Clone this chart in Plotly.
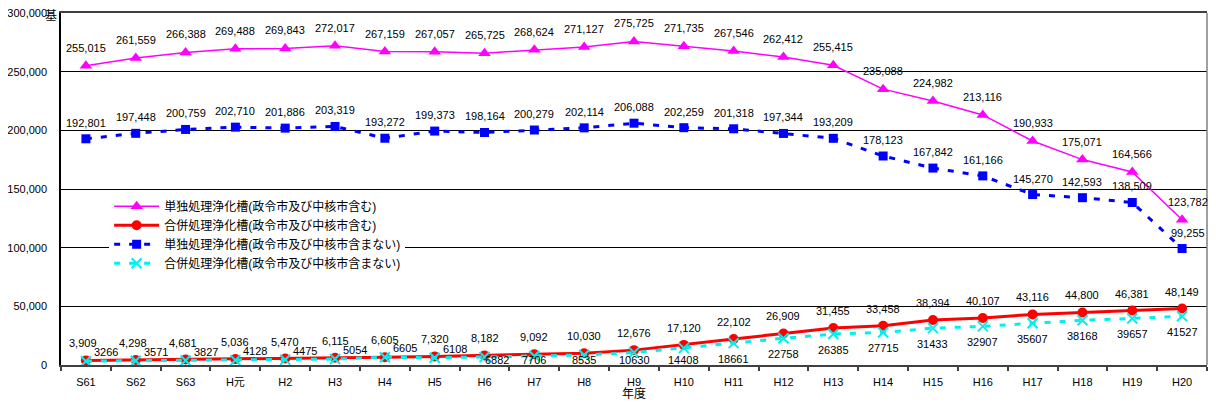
import plotly.graph_objects as go

years = ["S61", "S62", "S63", "H元", "H2", "H3", "H4", "H5", "H6", "H7", "H8", "H9",
         "H10", "H11", "H12", "H13", "H14", "H15", "H16", "H17", "H18", "H19", "H20"]

tandoku_incl = [255015, 261559, 266388, 269488, 269843, 272017, 267159, 267057, 265725,
                268624, 271127, 275725, 271735, 267546, 262412, 255415, 235088, 224982,
                213116, 190933, 175071, 164566, 123782]
gappei_incl = [3909, 4298, 4681, 5036, 5470, 6115, 6605, 7320, 8182, 9092, 10030, 12676,
               17120, 22102, 26909, 31455, 33458, 38394, 40107, 43116, 44800, 46381, 48149]
tandoku_excl = [192801, 197448, 200759, 202710, 201886, 203319, 193272, 199373, 198164,
                200279, 202114, 206088, 202259, 201318, 197344, 193209, 178123, 167842,
                161166, 145270, 142593, 138509, 99255]
gappei_excl = [3266, 3571, 3827, 4128, 4475, 5054, 6605, 6108, 6882, 7706, 8535, 10630,
               14408, 18661, 22758, 26385, 27715, 31433, 32907, 35607, 38168, 39657, 41527]

names = ["単独処理浄化槽(政令市及び中核市含む)",
         "合併処理浄化槽(政令市及び中核市含む)",
         "単独処理浄化槽(政令市及び中核市含まない)",
         "合併処理浄化槽(政令市及び中核市含まない)"]

FONT = "Liberation Sans, Noto Sans CJK JP, sans-serif"
YMAX = 300000
PLOT_H = 352  # pixel height of plot area
u_per_px = YMAX / PLOT_H
CYAN = "#00F0F0"

fig = go.Figure()
fig.add_trace(go.Scatter(x=years, y=tandoku_incl, name=names[0], mode="lines+markers",
                         line=dict(color="#FF00FF", width=1.5),
                         marker=dict(symbol="triangle-up", size=11, color="#FF00FF")))
fig.add_trace(go.Scatter(x=years, y=gappei_incl, name=names[1], mode="lines+markers",
                         line=dict(color="#FF0000", width=3),
                         marker=dict(symbol="circle", size=10, color="#FF0000")))
fig.add_trace(go.Scatter(x=years, y=tandoku_excl, name=names[2], mode="lines+markers",
                         line=dict(color="#0000FF", width=3, dash="6px,9px"),
                         marker=dict(symbol="square", size=9, color="#0000FF")))
fig.add_trace(go.Scatter(x=years, y=gappei_excl, name=names[3], mode="lines+markers",
                         line=dict(color=CYAN, width=3, dash="6px,9px"),
                         marker=dict(symbol="x-thin-open", size=10,
                                     line=dict(color=CYAN, width=2))))

ann = []
def lab(x, y, text, xs=0, ys=0):
    ann.append(dict(x=x, y=y, text=text, showarrow=False, xanchor="center",
                    yanchor="middle", xshift=xs, yshift=ys,
                    font=dict(family=FONT, size=11, color="#000000")))

n = len(years)
for i in range(n):
    xs_last = 6 if i == n - 1 else 0
    lab(years[i], tandoku_incl[i], f"{tandoku_incl[i]:,}", xs=xs_last, ys=18)
    lab(years[i], tandoku_excl[i], f"{tandoku_excl[i]:,}", xs=xs_last, ys=16)
    lab(years[i], gappei_incl[i], f"{gappei_incl[i]:,}", xs=-3 if i < 3 else 0, ys=17)
    if i < 8:
        lab(years[i], gappei_excl[i], f"{gappei_excl[i]}", xs=20, ys=9)
    else:
        yl = max(gappei_excl[i] - 16 * u_per_px, 5 * u_per_px)
        lab(years[i], yl, f"{gappei_excl[i]}", xs=12 if i == 8 else 0)

# unit label
ann.append(dict(x=-0.0087, y=1.0, xref="paper", yref="paper", text="基", showarrow=False,
                xanchor="center", yanchor="middle", yshift=-3,
                font=dict(family=FONT, size=12, color="#000000")))
# x-axis title
ann.append(dict(x=0.5, y=0, xref="paper", yref="paper", text="年度", showarrow=False,
                xanchor="center", yanchor="middle", yshift=-29,
                font=dict(family=FONT, size=12, color="#000000")))

# page body has an 8px margin; figure is sized to fit inside the window
fig.update_layout(
    width=1200, height=394,
    margin=dict(l=53, r=1, t=5, b=37, autoexpand=False),
    paper_bgcolor="white", plot_bgcolor="white",
    font=dict(family=FONT, size=11, color="#000000"),
    showlegend=True,
    legend=dict(x=0.042, y=0.492, xanchor="left", yanchor="top",
                bgcolor="white", borderwidth=0, tracegroupgap=0,
                font=dict(family=FONT, size=12, color="#000000"),
                itemwidth=45),
    annotations=ann,
    shapes=[dict(type="line", xref="paper", yref="paper", x0=1, x1=1, y0=0, y1=1,
                 line=dict(color="#808080", width=1.5))],
)
fig.update_xaxes(type="category", range=[-0.5, n - 0.5], tickson="boundaries",
                 ticks="outside", ticklen=4, tickcolor="#404040", tickwidth=1.5,
                 showline=True, linecolor="#404040", linewidth=2, mirror=True,
                 showgrid=False, tickfont=dict(family=FONT, size=11), automargin=False,
                 ticklabelstandoff=6, ticklabeloverflow="allow")
fig.update_yaxes(range=[0, YMAX], dtick=50000, tickformat=",d",
                 showline=True, linecolor="#000000", linewidth=1.5,
                 showgrid=True, gridcolor="#000000", gridwidth=1, automargin=False,
                 zeroline=False, ticks="", ticklabelstandoff=10,
                 ticklabeloverflow="allow",
                 tickfont=dict(family=FONT, size=11))

fig.write_html("out.html")
